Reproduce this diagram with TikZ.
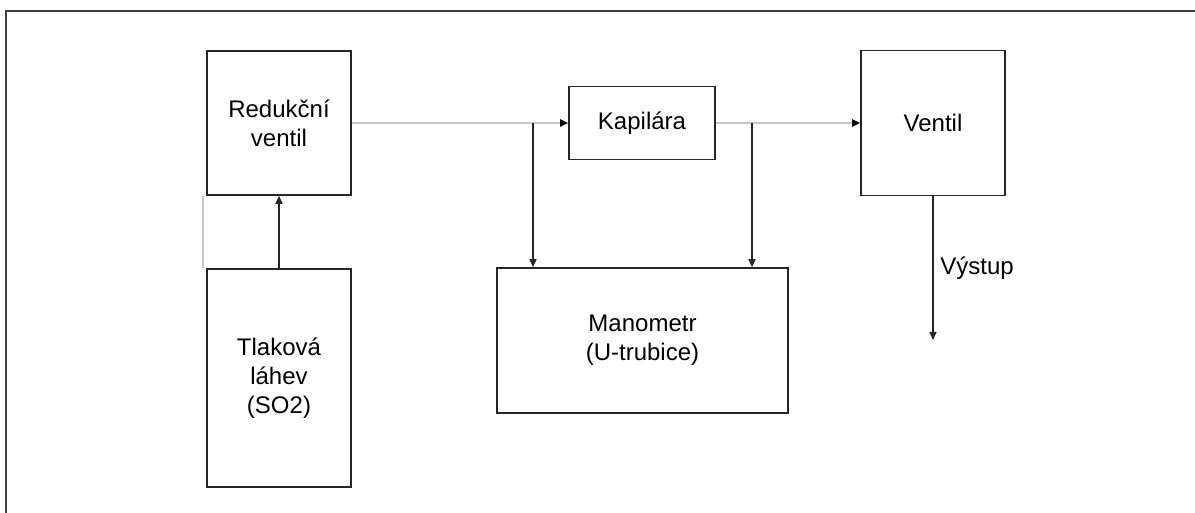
\documentclass[tikz,border=0pt]{standalone}
\usepackage{fontspec}
\setmainfont{Liberation Sans}
\usetikzlibrary{arrows.meta,calc}

\tikzset{
  blok/.style={draw=black!85,line width=0.8pt,inner sep=0pt,align=center,
    font=\fontsize{12}{14.5}\selectfont},
  tok/.style={draw=black!85,line width=0.75pt,-{Triangle[length=4pt,width=3.5pt]}},
  trubka/.style={draw=black!22,line width=0.9pt,-{Triangle[length=4pt,width=3.5pt,black]}}
}

\begin{document}
\begin{tikzpicture}[x=0.5pt,y=-0.5pt]
\useasboundingbox (0,0) rectangle (1195,513);
% ramecek
\draw[black!75,line width=0.9pt] (6,513) -- (6,11) -- (1195,11);

\node[blok,minimum width=72pt,minimum height=72pt] (reduk) at (279,123) {Redukční\\ventil};
\node[blok,minimum width=72pt,minimum height=109pt] (lahev) at (279,378) {Tlaková\\láhev\\(SO2)};
\node[blok,minimum width=73pt,minimum height=36.5pt] (kap) at (642,123) {Kapilára};
\node[blok,minimum width=145.5pt,minimum height=72.5pt] (man) at (642.5,340.5) {Manometr\\(U-trubice)};
\node[blok,minimum width=72pt,minimum height=72.5pt] (ventil) at (933,123) {Ventil};

\coordinate (j1) at (533,123);
\coordinate (j2) at (752,123);
\coordinate (out) at (933,340);

% potrubi
\draw[trubka] (reduk.east) -- (kap.west);
\draw[trubka] (kap.east) -- (ventil.west);
\draw[black!22,line width=0.8pt] ([xshift=-1.5]reduk.south west) -- ([xshift=-1.5]lahev.north west);

\draw[tok] (lahev.north) -- (reduk.south);
\draw[tok] (j1) -- (j1 |- man.north);
\draw[tok] (j2) -- (j2 |- man.north);
\draw[tok] (ventil.south) -- (out);
\node[anchor=west,font=\fontsize{12}{14.5}\selectfont,inner sep=0pt] (vystup) at (940,268) {Výstup};
\end{tikzpicture}
\end{document}
